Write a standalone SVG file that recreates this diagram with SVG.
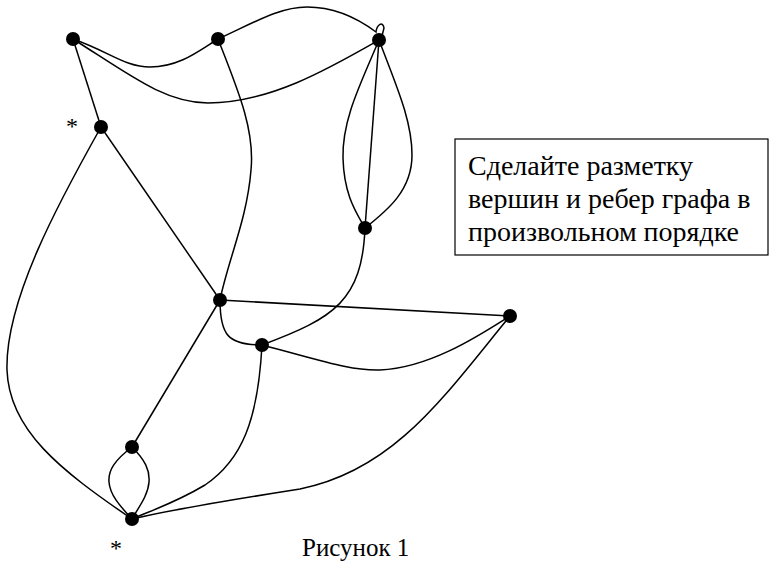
<svg xmlns="http://www.w3.org/2000/svg" width="769" height="561" viewBox="0 0 769 561">
<style>
.e{fill:none;stroke:#000;stroke-width:1.5}
.n{fill:#000}
.t{font-family:"Liberation Serif","Times New Roman",serif;fill:#000}
</style>
<rect width="769" height="561" fill="#fff"/>
<g id="connectors">
<path class="e" d="M73,39 C110,52 125,67 150,67 C180,67 200,50 218,39"/>
<path class="e" d="M73,39 C130,75 165,103 208,103 C270,103 330,68 379,40"/>
<path class="e" d="M218,39 C255,22 280,7 307,7 C338,7 360,20 376,32 C377,24 383,21 384,28 L382,36"/>
<path class="e" d="M218,39 C238,90 255,130 251,170 C247,220 228,260 220,300"/>
<path class="e" d="M379,40 C360,85 342,120 343,158 C344,195 356,212 365,228"/>
<path class="e" d="M379,40 L365,228"/>
<path class="e" d="M379,40 C396,85 412,120 412,155 C412,190 388,210 365,228"/>
<path class="e" d="M73,39 L101,127"/>
<path class="e" d="M101,127 L220,300"/>
<path class="e" d="M101,127 C60,200 5,300 7,370 C9,430 60,470 132,519"/>
<path class="e" d="M365,228 C362,300 335,318 262,345"/>
<path class="e" d="M220,300 L510,316"/>
<path class="e" d="M220,300 C220,335 228,345 262,345"/>
<path class="e" d="M262,345 C320,360 350,371 380,370 C430,368 480,335 510,316"/>
<path class="e" d="M220,300 L132,447"/>
<path class="e" d="M132,447 C115,460 108,470 109,482 C110,496 122,508 132,519"/>
<path class="e" d="M132,447 C145,460 150,470 149,482 C148,496 138,508 132,519"/>
<path class="e" d="M262,345 C258,420 242,460 205,485 C175,503 150,511 132,519"/>
<path class="e" d="M510,316 C445,395 395,470 300,489 C230,500 170,510 132,519"/>
</g>
<g id="A"><circle class="n" cx="73" cy="39" r="7"/></g>
<g id="B"><circle class="n" cx="218" cy="39" r="7"/></g>
<g id="C"><circle class="n" cx="379" cy="40" r="7"/></g>
<g id="D"><circle class="n" cx="101" cy="127" r="7"/><text class="t" x="66" y="134" font-size="24">*</text></g>
<g id="E"><circle class="n" cx="365" cy="228" r="7"/></g>
<g id="F"><circle class="n" cx="220" cy="300" r="7"/></g>
<g id="G"><circle class="n" cx="262" cy="345" r="7"/></g>
<g id="H"><circle class="n" cx="510" cy="316" r="7"/></g>
<g id="I"><circle class="n" cx="132" cy="447" r="7"/></g>
<g id="J"><circle class="n" cx="132" cy="519" r="7"/><text class="t" x="110" y="556" font-size="24">*</text></g>
<g id="note">
<rect x="455" y="139" width="313" height="116" fill="none" stroke="#000" stroke-width="1.2"/>
<text class="t" x="468" y="175" font-size="28">Сделайте разметку</text>
<text class="t" x="468" y="208" font-size="28">вершин и ребер графа в</text>
<text class="t" x="468" y="241" font-size="28">произвольном порядке</text>
</g>
<text class="t" x="302" y="556" font-size="25">Рисунок 1</text>
</svg>
